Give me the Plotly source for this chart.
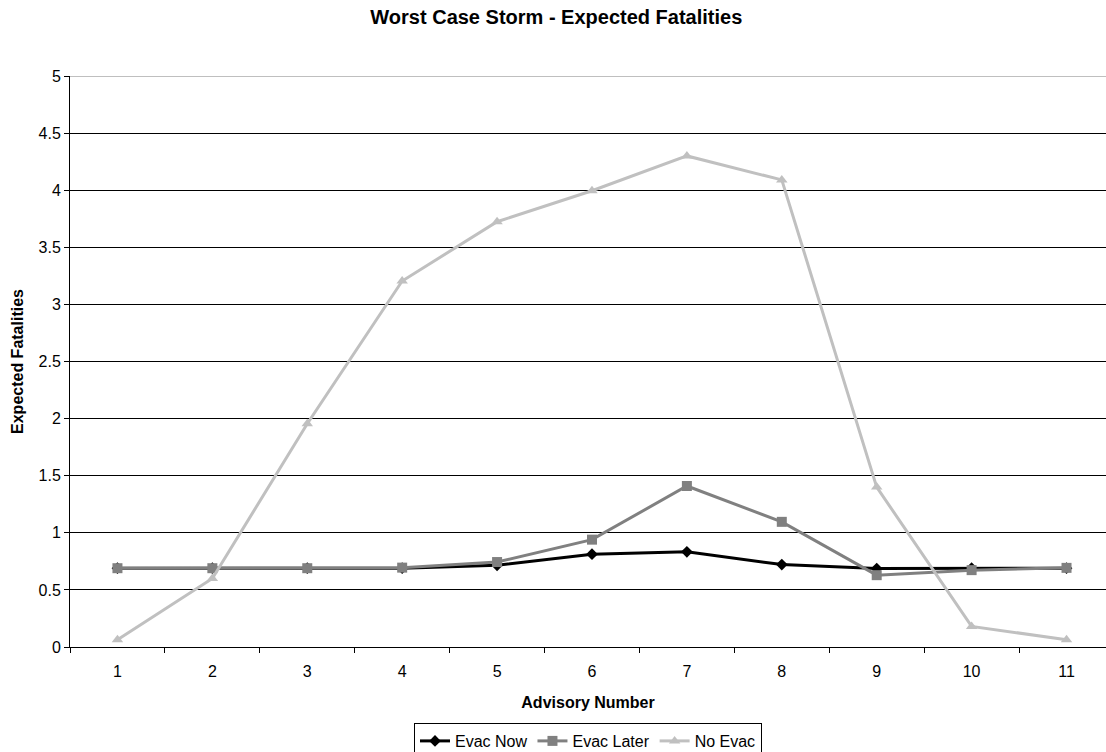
import plotly.graph_objects as go

advisory = [str(i) for i in range(1, 12)]
evac_now = [0.69, 0.69, 0.69, 0.69, 0.715, 0.813, 0.833, 0.722, 0.687, 0.69, 0.69]
evac_later = [0.69, 0.69, 0.69, 0.695, 0.744, 0.94, 1.41, 1.096, 0.629, 0.673, 0.693]
no_evac = [0.064, 0.60, 1.955, 3.205, 3.724, 3.995, 4.30, 4.09, 1.40, 0.18, 0.064]
y_ticks = [0, 0.5, 1, 1.5, 2, 2.5, 3, 3.5, 4, 4.5, 5]
y_tick_text = ["0", "0.5", "1", "1.5", "2", "2.5", "3", "3.5", "4", "4.5", "5"]

FONT = "Liberation Sans, Arial, sans-serif"

fig = go.Figure()
fig.add_trace(go.Scatter(x=advisory, y=evac_now, name="Evac Now", mode="lines+markers",
                         line=dict(color="#000000", width=3),
                         marker=dict(symbol="diamond", size=9, color="#000000")))
fig.add_trace(go.Scatter(x=advisory, y=evac_later, name="Evac Later", mode="lines+markers",
                         line=dict(color="#808080", width=3),
                         marker=dict(symbol="square", size=10, color="#808080")))
fig.add_trace(go.Scatter(x=advisory, y=no_evac, name="No Evac", mode="lines+markers",
                         line=dict(color="#C0C0C0", width=3),
                         marker=dict(symbol="triangle-up", size=10, color="#C0C0C0")))

# top border of the plot area (gray line at y = 5)
fig.add_shape(type="line", xref="paper", yref="y", x0=0, x1=1, y0=5, y1=5,
              line=dict(color="#808080", width=1))

fig.update_layout(
    width=1106, height=752,
    margin=dict(l=70, r=0, t=76, b=105),
    paper_bgcolor="white", plot_bgcolor="white",
    font=dict(family=FONT, size=16, color="#000000"),
    title=dict(text="<b>Worst Case Storm - Expected Fatalities</b>",
               x=0.503, xanchor="center", xref="container", y=1 - 17 / 752, yanchor="middle",
               font=dict(size=20, family=FONT)),
    showlegend=True,
    legend=dict(orientation="h", xref="paper", yref="container",
                x=0.5, xanchor="center", y=1 - 723 / 752, yanchor="top",
                bordercolor="#000000", borderwidth=1, bgcolor="white",
                font=dict(size=16, family=FONT), itemwidth=30,
                tracegroupgap=0, traceorder="normal"),
    xaxis=dict(type="category", range=[-0.5, 10.416], showgrid=False,
               showline=True, linecolor="#000000", linewidth=1,
               ticks="outside", tickson="boundaries", ticklen=5, tickcolor="#000000",
               ticklabelstandoff=10,
               tickfont=dict(size=16), zeroline=False,
               title=dict(text="<b>Advisory Number</b>", font=dict(size=16), standoff=17)),
    yaxis=dict(range=[0, 5], tickvals=y_ticks, ticktext=y_tick_text,
               showgrid=True, gridcolor="#000000", gridwidth=1,
               showline=True, linecolor="#000000", linewidth=1,
               ticks="outside", ticklen=5, tickcolor="#000000", zeroline=False,
               tickfont=dict(size=16),
               title=dict(text="<b>Expected Fatalities</b>", font=dict(size=16), standoff=10)),
)

fig.write_html("out.html")
